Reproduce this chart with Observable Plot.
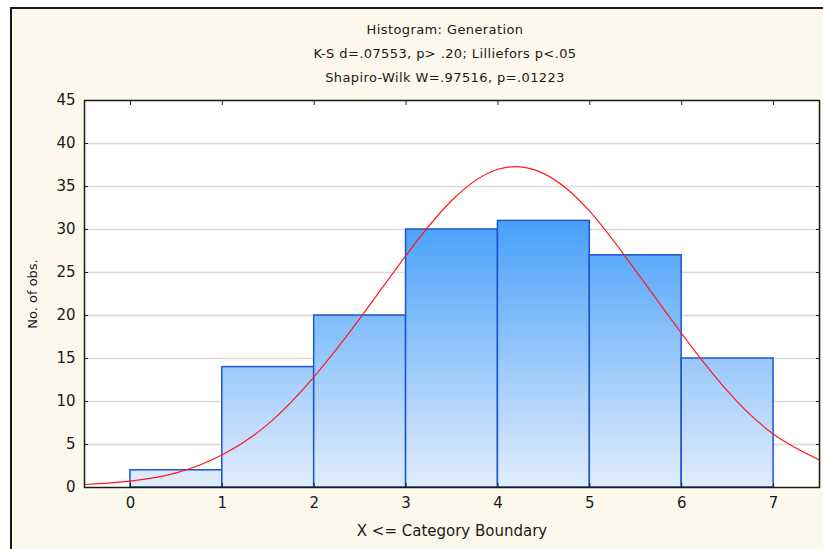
<!DOCTYPE html>
<html>
<head>
<meta charset="utf-8">
<script src="https://cdn.jsdelivr.net/npm/d3@7"></script>
<script src="https://cdn.jsdelivr.net/npm/@observablehq/plot@0.6"></script>
<style>
  body { margin: 0; }
  #page { position: relative; width: 823px; height: 549px; background: #ffffff; overflow: hidden; font-family: "DejaVu Sans", Verdana, sans-serif; }
  #panel { position: absolute; left: 10px; top: 7px; width: 900px; height: 600px; background: #fdf8ec; border-top: 2px solid #1a1a1a; border-left: 2px solid #1a1a1a; }
  #titles { position: absolute; left: 0; top: 18px; width: 890px; text-align: center; font-size: 13px; line-height: 24px; color: #1a1a1a; letter-spacing: 0.4px; }
  #chart { position: absolute; left: 0; top: 0; }
</style>
</head>
<body>
<div id="page">
  <div id="panel"></div>
  <div id="titles">
    <div>Histogram: Generation</div>
    <div>K-S d=.07553, p&gt; .20; Lilliefors p&lt;.05</div>
    <div>Shapiro-Wilk W=.97516, p=.01223</div>
  </div>
  <div id="chart"></div>
</div>
<script>
// Histogram bins (upper category boundaries) and counts
const binStart = [0, 1, 2, 3, 4, 5, 6];
const binEnd   = [1, 2, 3, 4, 5, 6, 7];
const counts   = [2, 14, 20, 30, 31, 27, 15];

// Fitted normal curve
const curveX = [-0.5, 0, 0.5, 1, 1.5, 2, 2.5, 3, 3.5, 4, 4.5, 5, 5.5, 6, 6.5, 7, 7.5];
const curveY = [0.35, 0.75, 1.7, 3.8, 7.4, 12.9, 19.7, 27.0, 33.4, 37.0, 36.5, 32.1, 25.2, 17.9, 11.2, 6.2, 3.2];

const xTicks = [0, 1, 2, 3, 4, 5, 6, 7];
const yTicks = [0, 5, 10, 15, 20, 25, 30, 35, 40, 45];

const bars = binStart.map((s, i) => ({x1: s, x2: binEnd[i], count: counts[i]}));
const curve = curveX.map((x, i) => ({x, y: curveY[i]}));

const chart = Plot.plot({
  width: 823,
  height: 549,
  marginLeft: 84,
  marginRight: 4,
  marginTop: 100,
  marginBottom: 62,
  style: {background: "transparent", fontFamily: "'DejaVu Sans', Verdana, sans-serif", fontSize: "15px", color: "#1a1a1a"},
  x: {domain: [-0.5, 7.5]},
  y: {domain: [0, 45]},
  marks: [
    Plot.frame({fill: "white", stroke: null}),
    Plot.ruleY(yTicks.filter(d => d > 0 && d < 45), {stroke: "#d9d9d9", strokeWidth: 1.5}),
    Plot.rectY(bars, {x1: "x1", x2: "x2", y: "count", fill: "url(#barGrad)", stroke: "#1c55d0", strokeWidth: 1.5}),
    Plot.line(curve, {x: "x", y: "y", stroke: "#ff1a1a", strokeWidth: 1.2, curve: "natural"}),
    Plot.frame({stroke: "#1a1a1a", strokeWidth: 1.5}),
    Plot.axisX(xTicks, {anchor: "bottom", tickSize: -4, tickPadding: 14, fontSize: 15, label: "X <= Category Boundary", labelAnchor: "center", labelArrow: "none", labelOffset: 48}),
    Plot.axisX(xTicks, {anchor: "top", tickSize: -4, tickFormat: () => "", label: null}),
    Plot.axisY(yTicks, {anchor: "left", tickSize: -4, tickPadding: 13, fontSize: 15, label: null}),
    Plot.axisY([], {anchor: "left", fontSize: 13, label: "No. of obs.", labelAnchor: "center", labelArrow: "none", labelOffset: 57}),
    Plot.axisY(yTicks, {anchor: "right", tickSize: -4, tickFormat: () => "", label: null})
  ]
});

// vertical gradient for bars, in plot coordinates
const yScale = chart.scale("y");
const ns = "http://www.w3.org/2000/svg";
const defs = document.createElementNS(ns, "defs");
const grad = document.createElementNS(ns, "linearGradient");
grad.setAttribute("id", "barGrad");
grad.setAttribute("gradientUnits", "userSpaceOnUse");
grad.setAttribute("x1", 0); grad.setAttribute("x2", 0);
grad.setAttribute("y1", yScale.apply(31));
grad.setAttribute("y2", yScale.apply(0));
[["0", "#48a0fa"], ["1", "#e2edfc"]].forEach(([o, c]) => {
  const st = document.createElementNS(ns, "stop");
  st.setAttribute("offset", o); st.setAttribute("stop-color", c);
  grad.appendChild(st);
});
defs.appendChild(grad);
chart.insertBefore(defs, chart.firstChild);

document.getElementById("chart").appendChild(chart);
</script>
</body>
</html>
